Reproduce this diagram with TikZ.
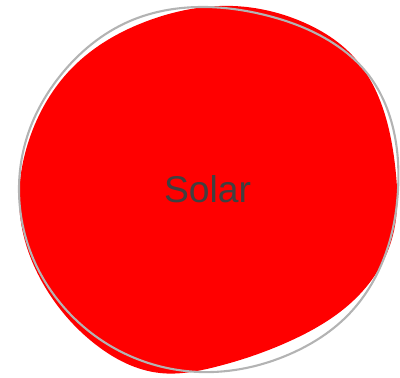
\documentclass[tikz,border=0pt]{standalone}
\usepackage{fontspec}
\setmainfont{Liberation Sans}
\usetikzlibrary{positioning, hobby}
\definecolor{sred}{HTML}{FF0000}
\definecolor{sgray}{HTML}{B3B3B3}
\definecolor{sink}{HTML}{404040}
\tikzset{
  blob/.style={fill=sred, draw=none},
  ring/.style={draw=sgray, line width=1.5pt},
  lab/.style={font=\fontsize{26.5}{30}\selectfont, text=sink}
}
\begin{document}
\begin{tikzpicture}[x=0.025cm, y=-0.025cm]
  \useasboundingbox (0,0) rectangle (400,377);
  % rough red fill
  \fill[blob, use Hobby shortcut, closed=true]
    (233,6) .. (305,23) .. (352,55) .. (381,103) .. (395,165) .. (393,235)
    .. (360,294) .. (290,341) .. (215,367) .. (160,373) .. (95,344)
    .. (45,287) .. (20,215) .. (29,140) .. (72,68) .. (150,20);
  % rough outline
  \draw[ring, use Hobby shortcut, closed=true]
    (200,7) .. (265,15) .. (333,43) .. (367,73) .. (390,117) .. (398,190)
    .. (390,240) .. (350,313) .. (290,354) .. (200,372) .. (130,356)
    .. (54,295) .. (38,269) .. (19,190) .. (28,134) .. (60,76) .. (130,21);
  \node[lab] (sun) at (207.5,189) {Solar};
\end{tikzpicture}
\end{document}
